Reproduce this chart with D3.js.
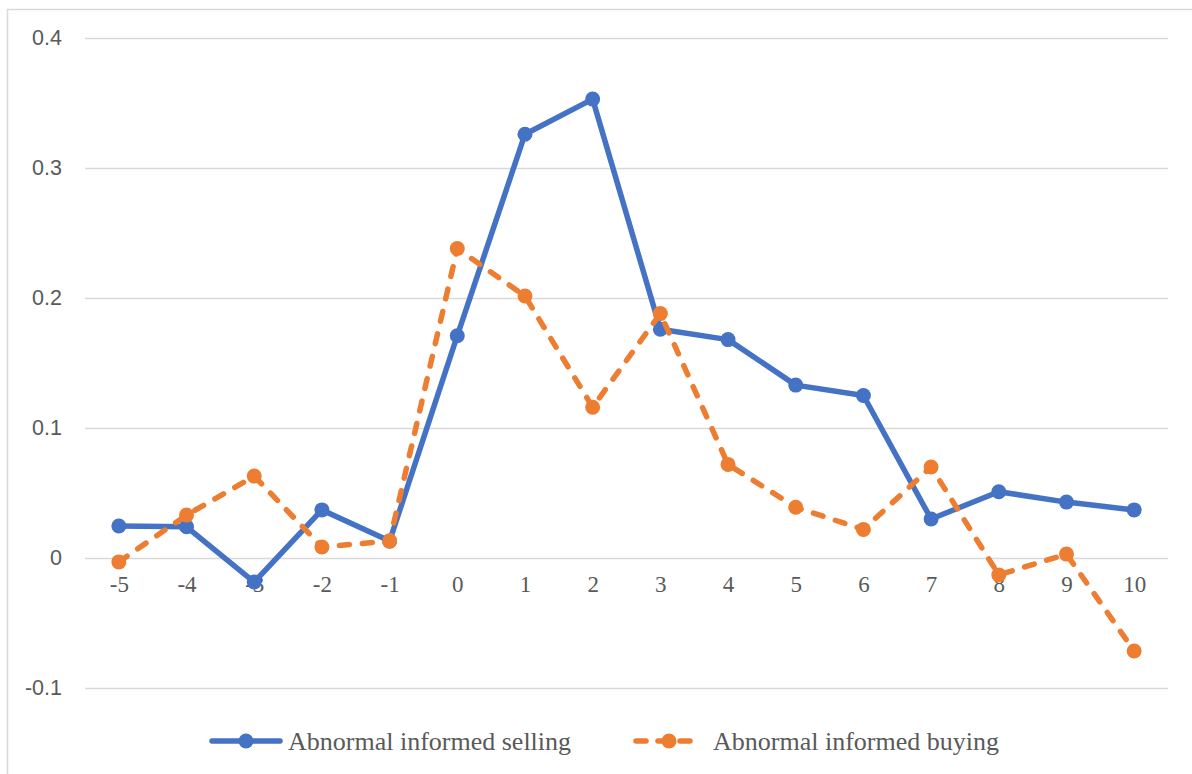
<!DOCTYPE html>
<html>
<head>
<meta charset="utf-8">
<script src="https://cdn.jsdelivr.net/npm/d3@7"></script>
<style>
  html, body { margin: 0; padding: 0; background: #fff; }
  svg { display: block; }
</style>
</head>
<body>
<svg id="chart" width="1192" height="774"></svg>
<script>
const categories = ["-5","-4","-3","-2","-1","0","1","2","3","4","5","6","7","8","9","10"];
const sellingValues = [0.0246, 0.024, -0.0185, 0.037, 0.013, 0.171, 0.326, 0.353, 0.176, 0.168, 0.133, 0.125, 0.030, 0.051, 0.043, 0.037];
const buyingValues = [-0.003, 0.033, 0.063, 0.0085, 0.013, 0.238, 0.2015, 0.116, 0.188, 0.072, 0.039, 0.022, 0.070, -0.013, 0.003, -0.0715];
const yTicks = [-0.1, 0, 0.1, 0.2, 0.3, 0.4];
const yTickLabels = ["-0.1", "0", "0.1", "0.2", "0.3", "0.4"];
const seriesNames = ["Abnormal informed selling", "Abnormal informed buying"];

const svg = d3.select("#chart");
const blue = "#4472C4", orange = "#ED7D31";

// chart border
svg.append("rect").attr("x", 7.5).attr("y", 9.5).attr("width", 1200).attr("height", 800)
  .attr("fill", "none").attr("stroke", "#d9d9d9").attr("stroke-width", 1.5);

const x = d3.scalePoint().domain(categories).range([85, 1168]).padding(0.5);
const y = d3.scaleLinear().domain([-0.1, 0.4]).range([688, 38]);

// gridlines + y labels
const yAxis = d3.axisLeft(y).tickValues(yTicks).tickSize(-(1168 - 85)).tickPadding(23)
  .tickFormat((d, i) => yTickLabels[i]);
const gy = svg.append("g").attr("transform", "translate(85,0)").call(yAxis);
gy.select(".domain").remove();
gy.selectAll("line").attr("stroke", "#d9d9d9").attr("stroke-width", 1.5);
gy.selectAll("text").attr("fill", "#595959").style("font-family", "'Liberation Sans', Arial, sans-serif").style("font-size", "21.5px");

// x labels (at zero line)
const xAxis = d3.axisBottom(x).tickSize(0).tickPadding(18);
const gx = svg.append("g").attr("transform", `translate(0,${y(0)})`).call(xAxis);
gx.select(".domain").remove();
gx.selectAll("text").attr("fill", "#595959").style("font-family", "'Liberation Serif', 'Times New Roman', serif").style("font-size", "23px");

const line = d3.line().x((d, i) => x(categories[i])).y(d => y(d));

// selling
svg.append("path").datum(sellingValues).attr("d", line).attr("fill", "none")
  .attr("stroke", blue).attr("stroke-width", 5.5).attr("stroke-linejoin", "round");
svg.append("g").selectAll("circle").data(sellingValues).join("circle")
  .attr("cx", (d, i) => x(categories[i])).attr("cy", d => y(d)).attr("r", 7.5).attr("fill", blue);

// buying
svg.append("path").datum(buyingValues).attr("d", line).attr("fill", "none")
  .attr("stroke", orange).attr("stroke-width", 5.5).attr("stroke-dasharray", "10,13")
  .attr("stroke-linecap", "round").attr("stroke-linejoin", "round");
svg.append("g").selectAll("circle").data(buyingValues).join("circle")
  .attr("cx", (d, i) => x(categories[i])).attr("cy", d => y(d)).attr("r", 7.5).attr("fill", orange);

// legend
const legY = 741;
const leg = svg.append("g");
leg.append("line").attr("x1", 212).attr("x2", 280).attr("y1", legY).attr("y2", legY)
  .attr("stroke", blue).attr("stroke-width", 5.5).attr("stroke-linecap", "round");
leg.append("circle").attr("cx", 246).attr("cy", legY).attr("r", 7.5).attr("fill", blue);
leg.append("text").attr("x", 288).attr("y", legY).attr("dy", "0.35em").text(seriesNames[0])
  .attr("fill", "#595959").style("font-family", "'Liberation Serif', 'Times New Roman', serif").style("font-size", "26px");

leg.append("line").attr("x1", 636).attr("x2", 696).attr("y1", legY).attr("y2", legY)
  .attr("stroke", orange).attr("stroke-width", 5.5).attr("stroke-linecap", "round").attr("stroke-dasharray", "10,12");
leg.append("circle").attr("cx", 669).attr("cy", legY).attr("r", 7.5).attr("fill", orange);
leg.append("text").attr("x", 713).attr("y", legY).attr("dy", "0.35em").text(seriesNames[1])
  .attr("fill", "#595959").style("font-family", "'Liberation Serif', 'Times New Roman', serif").style("font-size", "26px");
</script>
</body>
</html>
